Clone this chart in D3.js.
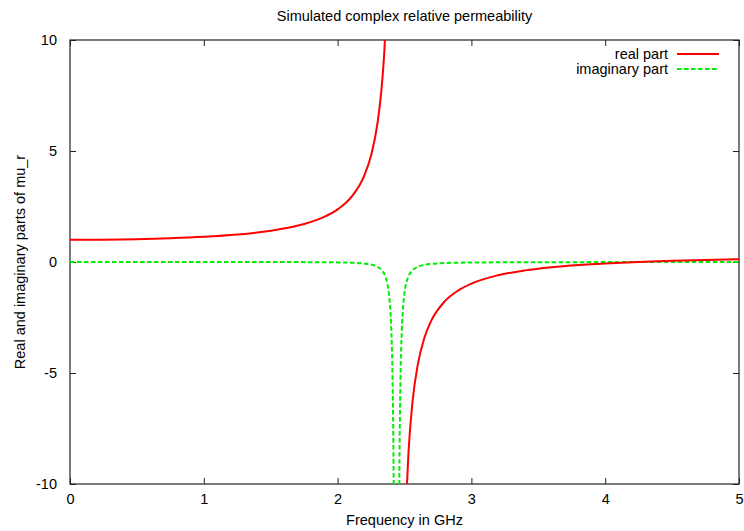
<!DOCTYPE html>
<html lang="en">
<head>
    <meta charset="UTF-8">
    <title>Simulated complex relative permeability</title>
    <script src="https://d3js.org/d3.v7.min.js"></script>
    <style>
        body { margin: 0; background: #fff; }
        svg { display: block; }
        text { font-family: "Liberation Sans", Arial, Helvetica, sans-serif; font-size: 14.5px; fill: #000; }
    </style>
</head>
<body>
    <div id="chart"></div>

    <script>
        // values (GHz, mu_r)
        const realFreq = [0, 0.25, 0.5, 0.75, 1.0, 1.25, 1.5, 1.75, 1.9, 2.0, 2.1, 2.2, 2.25, 2.3, 2.33, 2.35, 2.37,
                          null,
                          2.51, 2.53, 2.56, 2.6, 2.65, 2.7, 2.8, 2.9, 3.0, 3.2, 3.4, 3.6, 3.8, 4.0, 4.25, 4.5, 4.75, 5.0];
        const realVals = [1.000, 1.007, 1.029, 1.070, 1.135, 1.238, 1.406, 1.708, 2.029, 2.368, 2.908, 3.903, 4.795, 6.325, 7.912, 9.557, 12.14,
                          null,
                          -11.15, -8.559, -6.296, -4.600, -3.389, -2.644, -1.776, -1.287, -0.974, -0.596, -0.377, -0.236, -0.137, -0.064, 0.004, 0.054, 0.093, 0.123];

        const imagFreq = [0, 1.0, 1.5, 2.0, 2.1, 2.2, 2.25, 2.3, 2.33, 2.35, 2.37, 2.38, 2.39, 2.40, 2.41, 2.42, 2.425, 2.44,
                          2.455, 2.46, 2.47, 2.48, 2.49, 2.50, 2.52, 2.53, 2.56, 2.6, 2.65, 2.7, 2.8, 3.0, 3.5, 4.0, 5.0];
        const imagVals = [0, 0, -0.002, -0.017, -0.031, -0.068, -0.114, -0.220, -0.364, -0.553, -0.927, -1.269, -1.835, -2.870, -5.06, -10.96, -18.4, -137,
                          -18.85, -11.31, -5.31, -3.06, -1.991, -1.400, -0.803, -0.643, -0.370, -0.215, -0.130, -0.088, -0.049, -0.023, -0.009, -0.005, -0.003];

        const xTicks = [0, 1, 2, 3, 4, 5];
        const yTicks = [-10, -5, 0, 5, 10];

        const W = 744, H = 531;
        const margin = { top: 40, right: 5, bottom: 47, left: 70 };
        const width = W - margin.left - margin.right;
        const height = H - margin.top - margin.bottom;

        const svg = d3.select("#chart").append("svg").attr("width", W).attr("height", H);

        const x = d3.scaleLinear().domain([0, 5]).range([0, width]);
        const y = d3.scaleLinear().domain([-10, 10]).range([height, 0]);

        const g = svg.append("g").attr("transform", `translate(${margin.left},${margin.top})`);

        svg.append("defs").append("clipPath").attr("id", "plot-clip")
            .append("rect").attr("width", width).attr("height", height);

        // ticks pointing inward on all four sides (gnuplot style)
        const tick = 6;
        const fmt = d => String(d);   // plain hyphen minus like gnuplot
        g.append("g")
            .attr("transform", `translate(0,${height})`)
            .call(d3.axisBottom(x).tickValues(xTicks).tickFormat(fmt).tickSizeInner(-tick).tickSizeOuter(0).tickPadding(10))
            .call(a => a.select(".domain").remove());
        g.append("g")
            .call(d3.axisTop(x).tickValues(xTicks).tickFormat("").tickSizeInner(-tick).tickSizeOuter(0))
            .call(a => a.select(".domain").remove());
        g.append("g")
            .call(d3.axisLeft(y).tickValues(yTicks).tickFormat(fmt).tickSizeInner(-tick).tickSizeOuter(0).tickPadding(13))
            .call(a => a.select(".domain").remove());
        g.append("g")
            .attr("transform", `translate(${width},0)`)
            .call(d3.axisRight(y).tickValues(yTicks).tickFormat("").tickSizeInner(-tick).tickSizeOuter(0))
            .call(a => a.select(".domain").remove());

        g.selectAll(".tick line").attr("stroke", "#222");
        g.selectAll(".tick text").style("font-size", "14.5px").style("font-family", "'Liberation Sans', Arial, sans-serif").attr("fill", "#000");

        g.append("rect")
            .attr("width", width).attr("height", height)
            .attr("fill", "none").attr("stroke", "#222").attr("stroke-width", 1.2);

        const plot = g.append("g").attr("clip-path", "url(#plot-clip)");

        const line = d3.line()
            .defined(d => d[0] !== null)
            .x(d => x(d[0]))
            .y(d => y(d[1]))
            .curve(d3.curveMonotoneX);

        const realData = realFreq.map((f, i) => [f, realVals[i]]);
        const imagData = imagFreq.map((f, i) => [f, imagVals[i]]);

        plot.append("path").datum(imagData)
            .attr("d", line)
            .attr("fill", "none").attr("stroke", "#00ee00").attr("stroke-width", 2)
            .attr("stroke-dasharray", "4.5,2.5");

        plot.append("path").datum(realData)
            .attr("d", line)
            .attr("fill", "none").attr("stroke", "#ff0000").attr("stroke-width", 2);

        // legend
        const legend = [
            { label: "real part", color: "#ff0000", dash: null },
            { label: "imaginary part", color: "#00ee00", dash: "4.5,2.5" }
        ];
        const lg = svg.append("g").attr("transform", `translate(${margin.left + width - 71},54)`);
        legend.forEach((d, i) => {
            lg.append("text").attr("x", 0).attr("y", i * 15).attr("dy", "0.35em")
                .attr("text-anchor", "end").text(d.label);
            lg.append("line").attr("x1", 9).attr("x2", 51).attr("y1", i * 15).attr("y2", i * 15)
                .attr("stroke", d.color).attr("stroke-width", 2)
                .attr("stroke-dasharray", d.dash);
        });

        svg.append("text")
            .attr("x", margin.left + width / 2).attr("y", 21)
            .attr("text-anchor", "middle")
            .text("Simulated complex relative permeability");

        svg.append("text")
            .attr("x", margin.left + width / 2).attr("y", 525)
            .attr("text-anchor", "middle")
            .text("Frequency in GHz");

        svg.append("text")
            .attr("transform", `translate(25,${margin.top + height / 2}) rotate(-90)`)
            .attr("text-anchor", "middle")
            .text("Real and imaginary parts of mu_r");
    </script>
</body>
</html>
